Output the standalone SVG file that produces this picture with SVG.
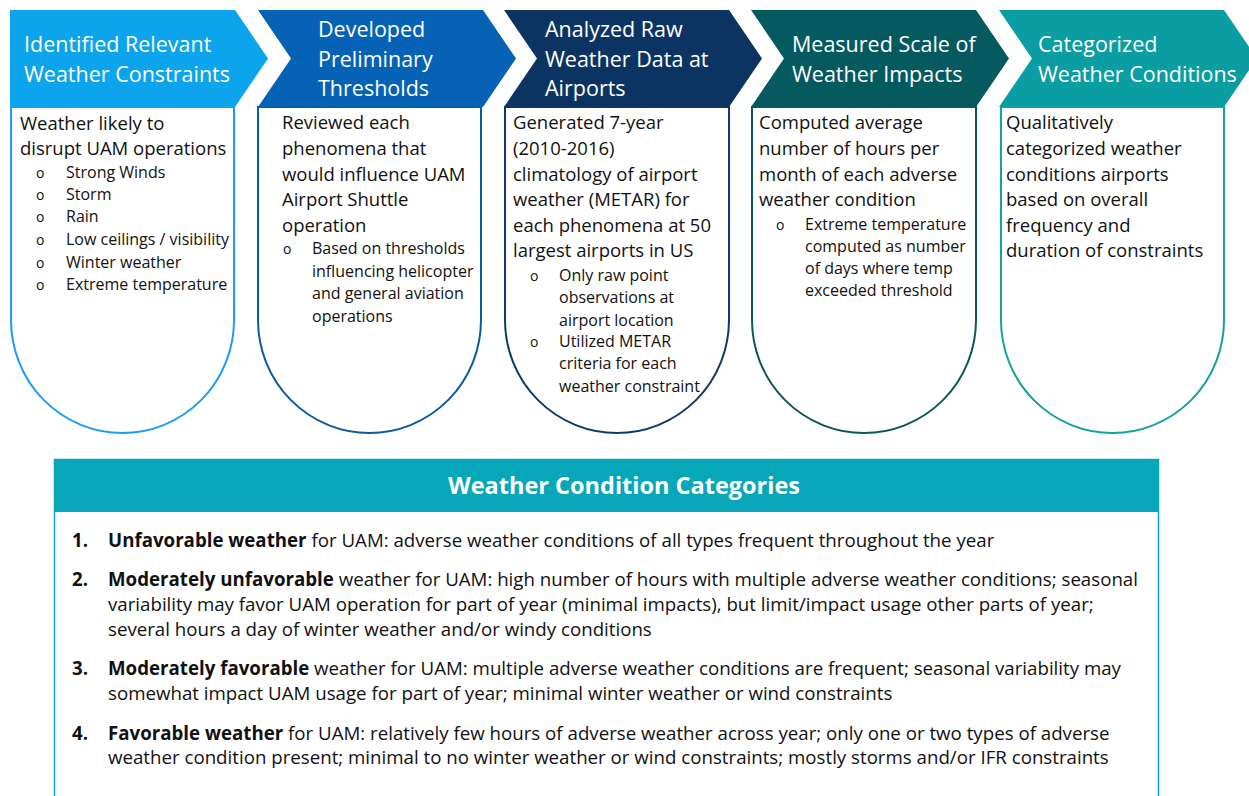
<svg xmlns="http://www.w3.org/2000/svg" width="1249" height="796" viewBox="0 0 1249 796">
<style>
.t{font-family:"Open Sans","Noto Sans","Liberation Sans",sans-serif;fill:#fff;font-size:21.5px}
.b{font-family:"Open Sans","Noto Sans","Liberation Sans",sans-serif;fill:#111;font-size:18.5px}
.s{font-family:"Open Sans","Noto Sans","Liberation Sans",sans-serif;fill:#111;font-size:16px}
.o{font-family:"Open Sans","Noto Sans","Liberation Sans",sans-serif;fill:#111;font-size:14px}
.i{font-family:"Open Sans","Noto Sans","Liberation Sans",sans-serif;fill:#111;font-size:18.7px}
.h{font-family:"Open Sans","Noto Sans","Liberation Sans",sans-serif;fill:#fff;font-size:23.5px;font-weight:bold}
.p{fill:#fff;stroke-width:2}
</style>
<rect width="1249" height="796" fill="#fff"/>
<g id="connectors"></g>
<g id="step1">
<path class="p" stroke="#1C9CF3" d="M11,107 V320 A111.5,113 0 0 0 234,320 V107 Z"/>
<polygon fill="#0CA4EC" points="10,10 235,10 268,58.5 235,107 10,107"/>
<text class="t" x="24" y="52">Identified Relevant</text>
<text class="t" x="24" y="82">Weather Constraints</text>
<text class="b" x="20" y="130">Weather likely to</text>
<text class="b" x="20" y="155">disrupt UAM operations</text>
<text class="o" x="36" y="178">o</text><text class="s" x="66" y="178">Strong Winds</text>
<text class="o" x="36" y="200">o</text><text class="s" x="66" y="200">Storm</text>
<text class="o" x="36" y="222">o</text><text class="s" x="66" y="222">Rain</text>
<text class="o" x="36" y="245">o</text><text class="s" x="66" y="245">Low ceilings / visibility</text>
<text class="o" x="36" y="268">o</text><text class="s" x="66" y="268">Winter weather</text>
<text class="o" x="36" y="290">o</text><text class="s" x="66" y="290">Extreme temperature</text>
</g>
<g id="step2">
<path class="p" stroke="#0A5C9E" d="M258,107 V320 A111.5,113 0 0 0 481,320 V107 Z"/>
<polygon fill="#0562B4" points="258,10 483,10 516,58.5 483,107 258,107 291,58.5"/>
<text class="t" x="318" y="37">Developed</text>
<text class="t" x="318" y="67">Preliminary</text>
<text class="t" x="318" y="96">Thresholds</text>
<text class="b" x="282" y="129">Reviewed each</text>
<text class="b" x="282" y="155">phenomena that</text>
<text class="b" x="282" y="181">would influence UAM</text>
<text class="b" x="282" y="206">Airport Shuttle</text>
<text class="b" x="282" y="232">operation</text>
<text class="o" x="283" y="254">o</text><text class="s" x="312" y="254">Based on thresholds</text>
<text class="s" x="312" y="277">influencing helicopter</text>
<text class="s" x="312" y="299">and general aviation</text>
<text class="s" x="312" y="322">operations</text>
</g>
<g id="step3">
<path class="p" stroke="#0D3A66" d="M505,107 V320 A112,113 0 0 0 729,320 V107 Z"/>
<polygon fill="#0B3463" points="504,10 729,10 762,58.5 729,107 504,107 537,58.5"/>
<text class="t" x="545" y="37">Analyzed Raw</text>
<text class="t" x="545" y="67">Weather Data at</text>
<text class="t" x="545" y="96">Airports</text>
<text class="b" x="513" y="129">Generated 7-year</text>
<text class="b" x="513" y="155">(2010-2016)</text>
<text class="b" x="513" y="181">climatology of airport</text>
<text class="b" x="513" y="206">weather (METAR) for</text>
<text class="b" x="513" y="232">each phenomena at 50</text>
<text class="b" x="513" y="257">largest airports in US</text>
<text class="o" x="530" y="281">o</text><text class="s" x="559" y="281">Only raw point</text>
<text class="s" x="559" y="303">observations at</text>
<text class="s" x="559" y="326">airport location</text>
<text class="o" x="530" y="347">o</text><text class="s" x="559" y="347">Utilized METAR</text>
<text class="s" x="559" y="369">criteria for each</text>
<text class="s" x="559" y="392">weather constraint</text>
</g>
<g id="step4">
<path class="p" stroke="#0B5858" d="M752,107 V320 A112,113 0 0 0 976,320 V107 Z"/>
<polygon fill="#055A5F" points="751,10 976,10 1009,58.5 976,107 751,107 784,58.5"/>
<text class="t" x="792" y="52">Measured Scale of</text>
<text class="t" x="792" y="82">Weather Impacts</text>
<text class="b" x="759" y="129">Computed average</text>
<text class="b" x="759" y="155">number of hours per</text>
<text class="b" x="759" y="181">month of each adverse</text>
<text class="b" x="759" y="206">weather condition</text>
<text class="o" x="776" y="230">o</text><text class="s" x="805" y="230">Extreme temperature</text>
<text class="s" x="805" y="252">computed as number</text>
<text class="s" x="805" y="274">of days where temp</text>
<text class="s" x="805" y="296">exceeded threshold</text>
</g>
<g id="step5">
<path class="p" stroke="#12A39F" d="M1001,107 V320 A111.5,113 0 0 0 1224,320 V107 Z"/>
<polygon fill="#0A9DA1" points="999,10 1224,10 1257,58.5 1224,107 999,107 1032,58.5"/>
<text class="t" x="1038" y="52">Categorized</text>
<text class="t" x="1038" y="82">Weather Conditions</text>
<text class="b" x="1006" y="129">Qualitatively</text>
<text class="b" x="1006" y="155">categorized weather</text>
<text class="b" x="1006" y="181">conditions airports</text>
<text class="b" x="1006" y="206">based on overall</text>
<text class="b" x="1006" y="232">frequency and</text>
<text class="b" x="1006" y="257">duration of constraints</text>
</g>
<g id="categories">
<rect x="54.5" y="459.5" width="1104" height="360" fill="#fff" stroke="#0BA7B8" stroke-width="1.5"/>
<rect x="54" y="459" width="1105" height="53" fill="#07A6B8"/>
<text class="h" x="624" y="494" text-anchor="middle">Weather Condition Categories</text>
<text class="i" x="72" y="547"><tspan font-weight="bold">1.</tspan></text>
<text class="i" x="108" y="547"><tspan font-weight="bold">Unfavorable weather</tspan> for UAM: adverse weather conditions of all types frequent throughout the year</text>
<text class="i" x="72" y="586"><tspan font-weight="bold">2.</tspan></text>
<text class="i" x="108" y="586"><tspan font-weight="bold">Moderately unfavorable</tspan> weather for UAM: high number of hours with multiple adverse weather conditions; seasonal</text>
<text class="i" x="108" y="611">variability may favor UAM operation for part of year (minimal impacts), but limit/impact usage other parts of year;</text>
<text class="i" x="108" y="636">several hours a day of winter weather and/or windy conditions</text>
<text class="i" x="72" y="675"><tspan font-weight="bold">3.</tspan></text>
<text class="i" x="108" y="675"><tspan font-weight="bold">Moderately favorable</tspan> weather for UAM: multiple adverse weather conditions are frequent; seasonal variability may</text>
<text class="i" x="108" y="700">somewhat impact UAM usage for part of year; minimal winter weather or wind constraints</text>
<text class="i" x="72" y="740"><tspan font-weight="bold">4.</tspan></text>
<text class="i" x="108" y="740"><tspan font-weight="bold">Favorable weather</tspan> for UAM: relatively few hours of adverse weather across year; only one or two types of adverse</text>
<text class="i" x="108" y="764">weather condition present; minimal to no winter weather or wind constraints; mostly storms and/or IFR constraints</text>
</g>
</svg>
